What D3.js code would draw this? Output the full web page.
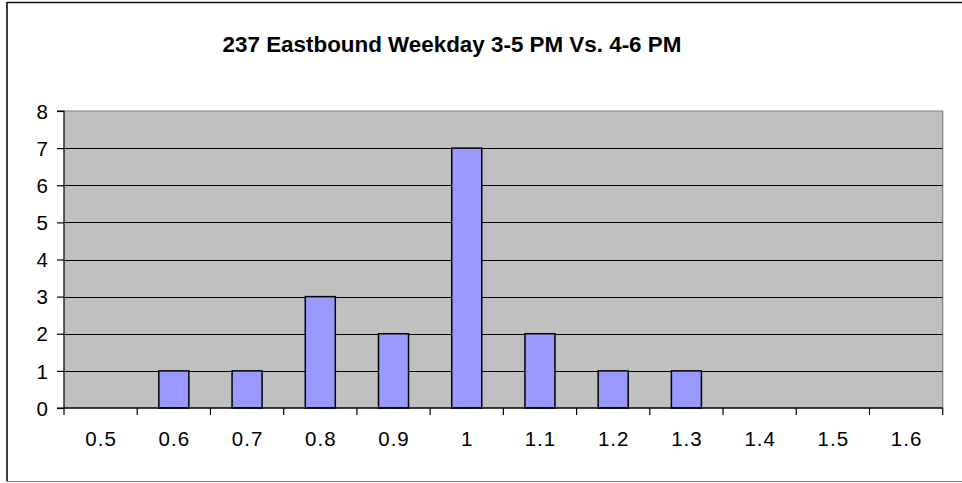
<!DOCTYPE html>
<html>
<head>
<meta charset="utf-8">
<script src="https://cdn.jsdelivr.net/npm/d3@7"></script>
<style>
  html, body { margin: 0; padding: 0; background: #fff; }
  svg { display: block; }
  text { font-family: Arial, "Liberation Sans", sans-serif; }
</style>
</head>
<body>
<svg id="chart" width="962" height="483"></svg>
<script>
// Histogram of ratio buckets
const categories = ["0.5", "0.6", "0.7", "0.8", "0.9", "1", "1.1", "1.2", "1.3", "1.4", "1.5", "1.6"];
const counts = [0, 1, 1, 3, 2, 7, 2, 1, 1, 0, 0, 0];
const yTicks = [0, 1, 2, 3, 4, 5, 6, 7, 8];
const title = "237 Eastbound Weekday 3-5 PM Vs. 4-6 PM";

const svg = d3.select("#chart");
const W = 962, H = 483;
const plot = { left: 64, right: 942.7, top: 111, bottom: 408 };
const labelSize = 20.5;
const labelSpacing = 1;

// Chart frame
svg.append("rect").attr("x", 0).attr("y", 0).attr("width", W).attr("height", H).attr("fill", "#fff");
svg.append("line").attr("x1", 7).attr("x2", 7).attr("y1", 2).attr("y2", 481.5)
  .attr("stroke", "#111").attr("stroke-width", 1.6);
svg.append("line").attr("x1", 7).attr("x2", W).attr("y1", 2.5).attr("y2", 2.5)
  .attr("stroke", "#111").attr("stroke-width", 1.6);
svg.append("line").attr("x1", 7).attr("x2", W).attr("y1", 481.5).attr("y2", 481.5)
  .attr("stroke", "#777").attr("stroke-width", 1.2);

const x = d3.scaleBand()
  .domain(categories)
  .range([plot.left, plot.right])
  .paddingInner(0.59)
  .paddingOuter(0.295);

const y = d3.scaleLinear()
  .domain([0, 8])
  .range([plot.bottom, plot.top]);

// Plot area background
svg.append("rect")
  .attr("x", plot.left).attr("y", plot.top)
  .attr("width", plot.right - plot.left).attr("height", plot.bottom - plot.top)
  .attr("fill", "#C0C0C0");
// Top and right edges of plot area
svg.append("path")
  .attr("d", `M${plot.left},${plot.top}H${plot.right}V${plot.bottom}`)
  .attr("fill", "none").attr("stroke", "#808080").attr("stroke-width", 1.2);

// Horizontal gridlines
svg.append("g")
  .selectAll("line")
  .data(yTicks.filter(d => d > 0 && d < 8))
  .join("line")
  .attr("x1", plot.left).attr("x2", plot.right)
  .attr("y1", d => Math.round(y(d)) + 0.5).attr("y2", d => Math.round(y(d)) + 0.5)
  .attr("stroke", "#000").attr("stroke-width", 1);

// Bars
svg.append("g")
  .selectAll("rect")
  .data(categories.map((c, i) => ({ c, v: counts[i] })).filter(d => d.v > 0))
  .join("rect")
  .attr("x", d => x(d.c))
  .attr("y", d => y(d.v))
  .attr("width", x.bandwidth())
  .attr("height", d => y(0) - y(d.v))
  .attr("fill", "#9999FF")
  .attr("stroke", "#000")
  .attr("stroke-width", 1.5);

// Y axis
const yAxis = d3.axisLeft(y).tickValues(yTicks).tickSize(7).tickPadding(9 - labelSpacing).tickFormat(d3.format("d"));
const gy = svg.append("g").attr("transform", `translate(${plot.left},0)`).call(yAxis);
gy.attr("font-size", labelSize).attr("font-family", "Arial, 'Liberation Sans', sans-serif");
gy.select(".domain").attr("stroke", "#000").attr("stroke-width", 1.2).attr("d", `M-7,${plot.top}H0V${plot.bottom}H-7`);
gy.selectAll(".tick line").attr("stroke", "#000").attr("stroke-width", 1.2);
gy.selectAll(".tick text").attr("fill", "#000").attr("dy", "0.35em")
  .style("letter-spacing", labelSpacing + "px");

// X axis with ticks between categories
const step = x.step();
const boundaries = d3.range(categories.length + 1).map(i => plot.left + i * step);
const gx = svg.append("g");
gx.append("line")
  .attr("x1", plot.left).attr("x2", plot.right)
  .attr("y1", plot.bottom).attr("y2", plot.bottom)
  .attr("stroke", "#000").attr("stroke-width", 1.5);
gx.selectAll("line.tk")
  .data(boundaries)
  .join("line")
  .attr("class", "tk")
  .attr("x1", d => d).attr("x2", d => d)
  .attr("y1", plot.bottom).attr("y2", plot.bottom + 7)
  .attr("stroke", "#000").attr("stroke-width", 1.2);
gx.selectAll("text")
  .data(categories)
  .join("text")
  .attr("x", d => x(d) + x.bandwidth() / 2 + labelSpacing / 2)
  .attr("y", 446)
  .attr("text-anchor", "middle")
  .attr("font-size", labelSize)
  .style("letter-spacing", labelSpacing + "px")
  .attr("fill", "#000")
  .text(d => d);

// Title
svg.append("text")
  .attr("x", 452)
  .attr("y", 52)
  .attr("text-anchor", "middle")
  .attr("font-size", 22.4)
  .attr("font-weight", "bold")
  .attr("fill", "#000")
  .text(title);
</script>
</body>
</html>
